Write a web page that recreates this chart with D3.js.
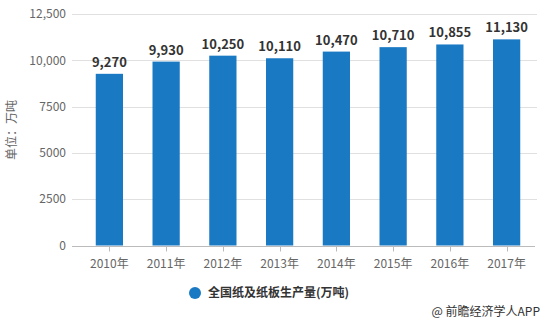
<!DOCTYPE html>
<html>
<head>
<meta charset="utf-8">
<script src="https://cdn.jsdelivr.net/npm/d3@7"></script>
<style>
  html, body { margin: 0; padding: 0; background: #fff; }
  svg { display: block; font-family: "Microsoft YaHei", "Noto Sans CJK SC", "Open Sans", sans-serif; }
</style>
</head>
<body>
<svg id="chart" width="546" height="326"></svg>
<script>
// Annual national output of paper and paperboard (10k tonnes)
const years = ["2010年", "2011年", "2012年", "2013年", "2014年", "2015年", "2016年", "2017年"];
const output = [9270, 9930, 10250, 10110, 10470, 10710, 10855, 11130];
const yTicks = [0, 2500, 5000, 7500, 10000, 12500];
const yTickLabels = ["0", "2500", "5000", "7500", "10,000", "12,500"];
const seriesName = "全国纸及纸板生产量(万吨)";
const yTitle = "单位：万吨";
const credit = "@ 前瞻经济学人APP";

const svg = d3.select("#chart");
const barColor = "#1a79c3";

const x = d3.scaleBand().domain(years).range([81, 535]).paddingInner(0.52).paddingOuter(0.26);
const y = d3.scaleLinear().domain([0, 12500]).range([245.5, 14]);

// horizontal gridlines
svg.append("g").selectAll("line").data(yTicks.filter(d => d > 0)).join("line")
  .attr("x1", 72).attr("x2", 537)
  .attr("y1", d => Math.round(y(d)) + 0.5).attr("y2", d => Math.round(y(d)) + 0.5)
  .attr("stroke", "#e0e0e0").attr("stroke-width", 1);

// y-axis tick labels
svg.append("g").selectAll("text").data(yTicks).join("text")
  .attr("x", 66).attr("y", d => y(d)).attr("dy", "0.35em")
  .attr("text-anchor", "end").attr("font-size", 12).attr("fill", "#666")
  .text((d, i) => yTickLabels[i]);

// y-axis title
svg.append("text")
  .attr("transform", "translate(16,130) rotate(-90)")
  .attr("text-anchor", "middle").attr("font-size", 12).attr("fill", "#666")
  .text(yTitle);

// bars
svg.append("g").selectAll("rect").data(output).join("rect")
  .attr("x", (d, i) => x(years[i])).attr("width", x.bandwidth())
  .attr("y", d => y(d)).attr("height", d => y(0) - y(d))
  .attr("fill", barColor);

// value labels
svg.append("g").selectAll("text").data(output).join("text")
  .attr("x", (d, i) => x(years[i]) + x.bandwidth() / 2)
  .attr("y", d => y(d) - 7)
  .attr("text-anchor", "middle").attr("font-size", 13).attr("font-weight", "bold")
  .attr("fill", "#333")
  .text(d => d3.format(",")(d));

// x axis
const xAxis = svg.append("g").attr("transform", `translate(0,${Math.round(y(0)) + 0.5})`);
xAxis.append("line").attr("x1", 72).attr("x2", 535).attr("stroke", "#bbb");
xAxis.selectAll(".tick").data(years).join("line")
  .attr("x1", d => Math.round(x(d) + x.bandwidth() / 2) + 0.5)
  .attr("x2", d => Math.round(x(d) + x.bandwidth() / 2) + 0.5)
  .attr("y1", 0).attr("y2", 5).attr("stroke", "#bbb");
xAxis.selectAll("text").data(years).join("text")
  .attr("x", d => x(d) + x.bandwidth() / 2).attr("y", 21)
  .attr("text-anchor", "middle").attr("font-size", 12).attr("fill", "#666")
  .text(d => d);

// legend
const legend = svg.append("g");
legend.append("circle").attr("cx", 195).attr("cy", 293).attr("r", 6).attr("fill", barColor);
legend.append("text").attr("x", 208).attr("y", 293).attr("dy", "0.35em")
  .attr("font-size", 12).attr("font-weight", "bold").attr("fill", "#333")
  .text(seriesName);

// source credit
svg.append("text").attr("x", 540).attr("y", 316)
  .attr("text-anchor", "end").attr("font-size", 12).attr("fill", "#333")
  .text(credit);
</script>
</body>
</html>
